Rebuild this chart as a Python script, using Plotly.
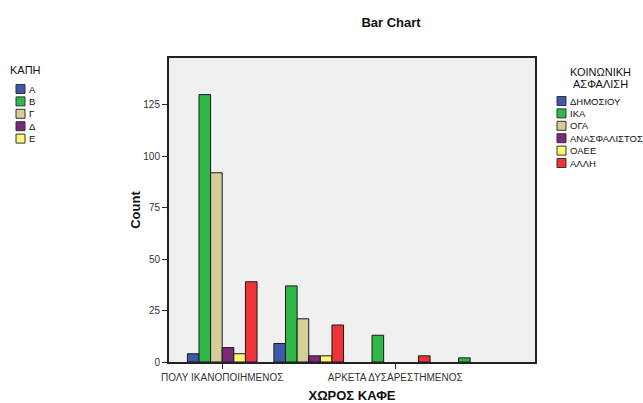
import plotly.graph_objects as go

# categories (x) and series (insurance type)
categories = ["ΠΟΛΥ ΙΚΑΝΟΠΟΙΗΜΕΝΟΣ", "ΙΚΑΝΟΠΟΙΗΜΕΝΟΣ",
              "ΑΡΚΕΤΑ ΔΥΣΑΡΕΣΤΗΜΕΝΟΣ", "ΠΟΛΥ ΔΥΣΑΡΕΣΤΗΜΕΝΟΣ"]
series_names = ["ΔΗΜΟΣΙΟΥ", "ΙΚΑ", "ΟΓΑ", "ΑΝΑΣΦΑΛΙΣΤΟΣ", "ΟΑΕΕ", "ΑΛΛΗ"]
dimosiou = [4, 9, 0, 0]
ika = [130, 37, 13, 2]
oga = [92, 21, 0, 0]
anasfalistos = [7, 3, 0, 0]
oaee = [4, 3, 0, 0]
alli = [39, 18, 3, 0]
series_values = [dimosiou, ika, oga, anasfalistos, oaee, alli]

kapi_labels = ["Α", "Β", "Γ", "Δ", "Ε"]
y_ticks = [0, 25, 50, 75, 100, 125]

colors = ["#3e58ac", "#2eb848", "#d4cf98", "#7b277d", "#fbf873", "#ef3338"]

FONT = "Liberation Sans, Arial, sans-serif"
W, H = 643, 403
L, R, T, B = 169, 535, 58, 362


def px_x(x):
    return (x - L) / (R - L)


def px_y(y):
    return (B - y) / (B - T)


fig = go.Figure()
for name, vals, col in zip(series_names, series_values, colors):
    # empty cells are not drawn (SPSS leaves them out)
    fig.add_trace(go.Bar(
        x=list(range(len(categories))), y=[v if v else None for v in vals],
        name=name,
        marker=dict(color=col, line=dict(color="#1a1a1a", width=1)),
        showlegend=False,
    ))

fig.update_layout(
    width=W, height=H,
    margin=dict(l=L, r=W - R, t=T, b=H - B, autoexpand=False),
    paper_bgcolor="white", plot_bgcolor="#f0f0f0",
    barmode="group", bargap=0.195, bargroupgap=0,
    font=dict(family=FONT, size=10, color="#222"),
    title=dict(text="<b>Bar Chart</b>", x=391 / W, xanchor="center",
               y=1 - 22 / H, yanchor="middle",
               font=dict(size=13, color="#111")),
)
fig.update_xaxes(
    automargin=False,
    range=[-0.615, 3.615], tickvals=[0, 2],
    ticktext=[categories[0], categories[2]],
    ticks="outside", ticklen=5, tickcolor="#222",
    showline=True, linecolor="#222", linewidth=2, mirror=True,
    showgrid=False, zeroline=False,
    tickfont=dict(size=10, color="#333"),
    title=dict(text="<b>ΧΩΡΟΣ ΚΑΦΕ</b>", standoff=10,
               font=dict(size=13, color="#111")),
)
fig.update_yaxes(
    automargin=False,
    range=[0, 147.8], tickvals=y_ticks,
    ticks="outside", ticklen=5, tickcolor="#222",
    showline=True, linecolor="#222", linewidth=2, mirror=True,
    showgrid=False, zeroline=False,
    tickfont=dict(size=10, color="#333"),
    title=dict(text="<b>Count</b>", standoff=0,
               font=dict(size=13, color="#111")),
)

shapes = []
annotations = []


def legend_block(title_lines, title_x, title_anchor, title_y0, labels, sw_x, y0):
    for i, line in enumerate(title_lines):
        annotations.append(dict(
            text=line, xref="paper", yref="paper",
            x=px_x(title_x), y=px_y(title_y0 + i * 12),
            xanchor=title_anchor, yanchor="middle", showarrow=False,
            font=dict(size=11, color="#111")))
    for i, (lab, col) in enumerate(zip(labels, colors)):
        yc = y0 + i * 12.4
        shapes.append(dict(
            type="rect", xref="paper", yref="paper",
            x0=px_x(sw_x), x1=px_x(sw_x + 9),
            y0=px_y(yc + 4.5), y1=px_y(yc - 4.5),
            fillcolor=col, line=dict(color="#333", width=1)))
        annotations.append(dict(
            text=lab, xref="paper", yref="paper",
            x=px_x(sw_x + 11), y=px_y(yc),
            xanchor="left", yanchor="middle", showarrow=False,
            font=dict(size=9.5, color="#111")))


legend_block(["ΚΑΠΗ"], 8, "left", 70, kapi_labels, 16, 89)
legend_block(["ΚΟΙΝΩΝΙΚΗ", "ΑΣΦΑΛΙΣΗ"], 600, "center", 72,
             series_names, 557, 101)

fig.update_layout(shapes=shapes, annotations=annotations)

fig.write_html("out.html", config={"displayModeBar": False},
               post_script="document.body.style.margin='0';")
